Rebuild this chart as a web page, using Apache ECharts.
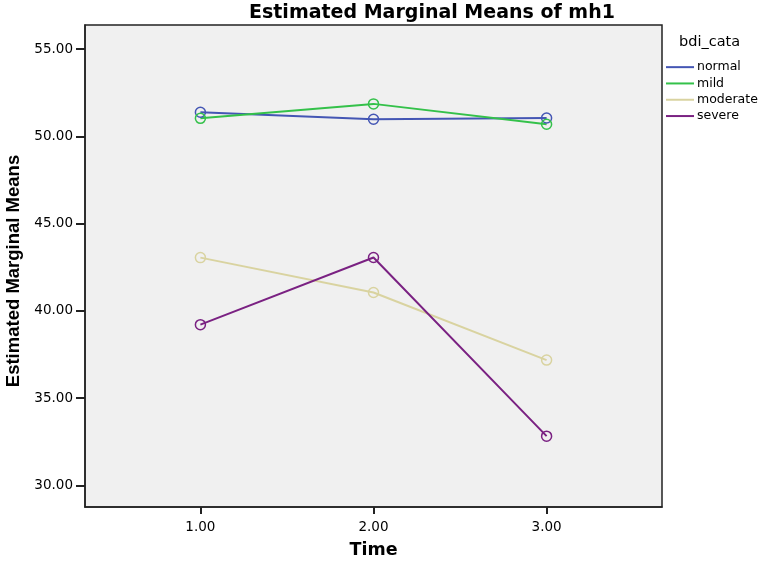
<!DOCTYPE html>
<html>
<head>
<meta charset="utf-8">
<script src="https://cdn.jsdelivr.net/npm/echarts@6/dist/echarts.min.js"></script>
<style>
  html, body { margin: 0; padding: 0; background: #fff; }
  #chart { width: 765px; height: 561px; }
</style>
</head>
<body>
<div id="chart"></div>
<script>
// data
const times = [1, 2, 3]
const yTicks = [30, 35, 40, 45, 50, 55]
const normal = [51.38, 50.98, 51.05]
const mild = [51.03, 51.86, 50.69]
const moderate = [43.05, 41.05, 37.18]
const severe = [39.21, 43.06, 32.82]

const groups = [
  { name: 'normal', values: normal, color: '#4456b4' },
  { name: 'mild', values: mild, color: '#34c14a' },
  { name: 'moderate', values: moderate, color: '#d9d3a0' },
  { name: 'severe', values: severe, color: '#7a2182' }
]

// the reference text is stretched sideways, DejaVu is the wider face
const wide = '"DejaVu Sans", sans-serif'
const arial = '"Liberation Sans", Arial, sans-serif'

const series = groups.map(g => ({
  name: g.name,
  type: 'line',
  data: times.map((t, i) => [t, g.values[i]]),
  symbol: 'circle',
  symbolSize: 10,
  showSymbol: true,
  lineStyle: { color: g.color, width: 2 },
  itemStyle: { color: 'rgba(0,0,0,0)', borderColor: g.color, borderWidth: 1.5 },
  emphasis: { disabled: true }
}))

const myChart = echarts.init(document.getElementById('chart'))
const options = {
  animation: false,
  title: [
    {
      text: 'Estimated Marginal Means of mh1',
      left: 249, top: 4, padding: 0,
      textStyle: { fontFamily: wide, fontSize: 19, fontWeight: 'bold', color: '#000' }
    },
    {
      text: 'bdi_cata',
      left: 679, top: 35, padding: 0,
      textStyle: { fontFamily: wide, fontSize: 14.5, fontWeight: 'normal', color: '#000' }
    }
  ],
  legend: {
    orient: 'vertical',
    left: 666, top: 59, padding: 0,
    icon: 'rect',
    itemWidth: 28, itemHeight: 2,
    itemGap: 0,
    data: groups.map(g => ({ name: g.name, itemStyle: { color: g.color, borderWidth: 0 } })),
    textStyle: { fontFamily: wide, fontSize: 12.5, color: '#000', lineHeight: 16.3, padding: [0, 0, 0, -2] },
    selectedMode: false
  },
  grid: {
    left: 85, right: 103, top: 25, bottom: 54,
    outerBoundsMode: 'none',
    show: true, backgroundColor: '#f0f0f0',
    borderColor: '#222', borderWidth: 1.5
  },
  xAxis: {
    type: 'value',
    min: 1 / 3, max: 11 / 3,
    name: 'Time', nameLocation: 'middle', nameGap: 34,
    nameTextStyle: { fontFamily: wide, fontSize: 17.5, fontWeight: 'bold', color: '#000', verticalAlign: 'top' },
    axisLine: { show: true, lineStyle: { color: '#222', width: 1.5 } },
    axisTick: { show: true, customValues: times, length: 7, lineStyle: { color: '#222', width: 2 } },
    axisLabel: { customValues: times, formatter: v => v.toFixed(2), fontFamily: wide, fontSize: 13.5, color: '#000', margin: 13 },
    splitLine: { show: false }
  },
  yAxis: {
    type: 'value',
    min: 28.76, max: 56.38,
    name: 'Estimated Marginal Means', nameLocation: 'middle', nameGap: 61,
    nameTextStyle: { fontFamily: arial, fontSize: 18.5, fontWeight: 'bold', color: '#000', padding: [0, 0, 0, -10] },
    axisLine: { show: true, lineStyle: { color: '#222', width: 1.5 } },
    axisTick: { show: true, customValues: yTicks, length: 9, lineStyle: { color: '#222', width: 2 } },
    axisLabel: { customValues: yTicks, formatter: v => v.toFixed(2), fontFamily: wide, fontSize: 13.5, color: '#000', margin: 12 },
    splitLine: { show: false }
  },
  series: series
}
myChart.setOption(options)
window.onresize = myChart.resize
</script>
</body>
</html>
